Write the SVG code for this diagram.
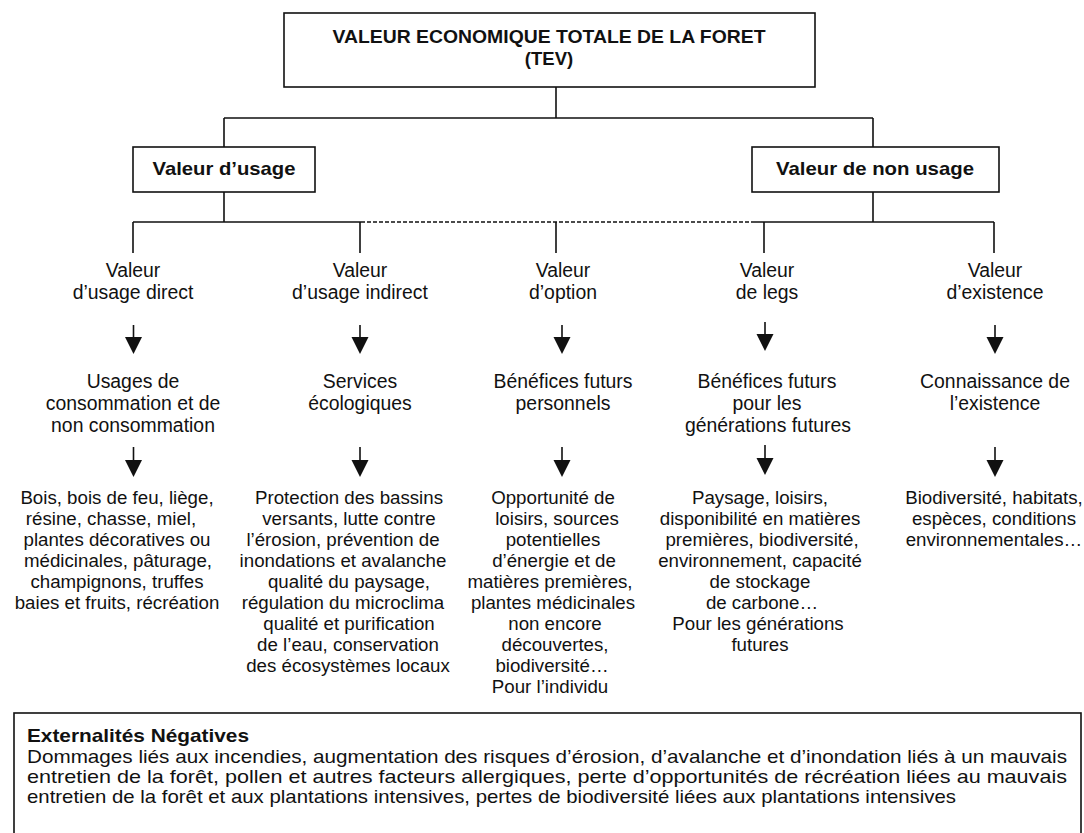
<svg xmlns="http://www.w3.org/2000/svg" width="1084" height="833" viewBox="0 0 1084 833">
<style>
.bg{fill:#fff}
.box{fill:#fff;stroke:#111;stroke-width:1.6}
.ln{fill:none;stroke:#111;stroke-width:1.6}
.dash{fill:none;stroke:#111;stroke-width:1.4;stroke-dasharray:4 2}
.t{font-family:"Liberation Sans",Arial,sans-serif;font-size:19.4px;fill:#111;text-anchor:middle}
.s{font-family:"Liberation Sans",Arial,sans-serif;font-size:18.7px;fill:#111;text-anchor:middle}
.b{font-family:"Liberation Sans",Arial,sans-serif;font-size:18.5px;font-weight:bold;fill:#111;text-anchor:middle}
.bl{font-family:"Liberation Sans",Arial,sans-serif;font-size:17.9px;fill:#111}
.blb{font-weight:bold}
.arrow{fill:none;stroke:#111;stroke-width:1.6}
.head{fill:#111}
</style>
<rect class="bg" x="0" y="0" width="1084" height="833"/>

<g id="connectors">
  <path class="ln" d="M556 87V118M224 118H873M224 118V147M873 118V147"/>
  <path class="ln" d="M224 192V222M873 192V222"/>
  <path class="ln" d="M133 222H361M752 222H994"/>
  <path class="dash" d="M361 222H752"/>
  <path class="ln" d="M133 222V253M360 222V253M556 222V253M764 222V253M994 222V253"/>
  <path class="arrow" d="M133.5 325V339M360 325V339M562 325V339M765 322V336M995 325V339"/>
  <path class="head" d="M125 337H142L133.5 354ZM351.5 337H368.5L360 354ZM553.5 337H570.5L562 354ZM756.5 334H773.5L765 351ZM986.5 337H1003.5L995 354Z"/>
  <path class="arrow" d="M133.5 447V462M360 447V462M562 447V462M765 445V460M995 447V462"/>
  <path class="head" d="M125 460H142L133.5 477ZM351.5 460H368.5L360 477ZM553.5 460H570.5L562 477ZM756.5 458H773.5L765 475ZM986.5 460H1003.5L995 477Z"/>
</g>

<g id="tev">
  <rect class="box" x="284" y="13" width="531" height="74"/>
  <text class="b" x="549" y="43" textLength="433" lengthAdjust="spacingAndGlyphs">VALEUR ECONOMIQUE TOTALE DE LA FORET</text>
  <text class="b" x="549" y="65">(TEV)</text>
</g>

<g id="usage">
  <rect class="box" x="133" y="147" width="182" height="45"/>
  <text class="b" x="224" y="175" textLength="143" lengthAdjust="spacingAndGlyphs">Valeur d’usage</text>
</g>

<g id="non-usage">
  <rect class="box" x="752" y="147" width="247" height="45"/>
  <text class="b" x="875" y="175" textLength="198" lengthAdjust="spacingAndGlyphs">Valeur de non usage</text>
</g>

<g id="usage-direct">
  <text class="t"><tspan x="133" y="277">Valeur</tspan><tspan x="133" y="299">d’usage direct</tspan></text>
</g>
<g id="usage-indirect">
  <text class="t"><tspan x="360" y="277">Valeur</tspan><tspan x="360" y="299">d’usage indirect</tspan></text>
</g>
<g id="option">
  <text class="t"><tspan x="563" y="277">Valeur</tspan><tspan x="563" y="299">d’option</tspan></text>
</g>
<g id="legs">
  <text class="t"><tspan x="767" y="277">Valeur</tspan><tspan x="767" y="299">de legs</tspan></text>
</g>
<g id="existence">
  <text class="t"><tspan x="995" y="277">Valeur</tspan><tspan x="995" y="299">d’existence</tspan></text>
</g>

<g id="usages-conso">
  <text class="t"><tspan x="133" y="388">Usages de</tspan><tspan x="133" y="410">consommation et de</tspan><tspan x="133" y="432">non consommation</tspan></text>
</g>
<g id="services">
  <text class="t"><tspan x="360" y="388">Services</tspan><tspan x="360" y="410">écologiques</tspan></text>
</g>
<g id="benefices-perso">
  <text class="t"><tspan x="563" y="388">Bénéfices futurs</tspan><tspan x="563" y="410">personnels</tspan></text>
</g>
<g id="benefices-gen">
  <text class="t"><tspan x="767" y="388">Bénéfices futurs</tspan><tspan x="767" y="410">pour les</tspan><tspan x="768" y="432">générations futures</tspan></text>
</g>
<g id="connaissance">
  <text class="t"><tspan x="995" y="388">Connaissance de</tspan><tspan x="995" y="410">l’existence</tspan></text>
</g>

<g id="exemples-direct">
  <text class="s"><tspan x="117" y="504">Bois, bois de feu, liège,</tspan><tspan x="111" y="525">résine, chasse, miel,</tspan><tspan x="117" y="546">plantes décoratives ou</tspan><tspan x="118" y="567">médicinales, pâturage,</tspan><tspan x="117" y="588">champignons, truffes</tspan><tspan x="117" y="609">baies et fruits, récréation</tspan></text>
</g>
<g id="exemples-indirect">
  <text class="s"><tspan x="349" y="504">Protection des bassins</tspan><tspan x="349" y="525">versants, lutte contre</tspan><tspan x="343" y="546">l’érosion,  prévention de</tspan><tspan x="343" y="567">inondations et avalanche</tspan><tspan x="349" y="588">qualité du paysage,</tspan><tspan x="343" y="609">régulation du microclima</tspan><tspan x="349" y="630">qualité et purification</tspan><tspan x="348" y="651">de l’eau, conservation</tspan><tspan x="348" y="672">des écosystèmes locaux</tspan></text>
</g>
<g id="exemples-option">
  <text class="s"><tspan x="553" y="504">Opportunité de</tspan><tspan x="557" y="525">loisirs, sources</tspan><tspan x="553" y="546">potentielles</tspan><tspan x="554" y="567">d’énergie et de</tspan><tspan x="550" y="588">matières premières,</tspan><tspan x="553" y="609">plantes médicinales</tspan><tspan x="555" y="630">non encore</tspan><tspan x="555" y="651">découvertes,</tspan><tspan x="552" y="672">biodiversité…</tspan><tspan x="550" y="693">Pour l’individu</tspan></text>
</g>
<g id="exemples-legs">
  <text class="s"><tspan x="760" y="504">Paysage, loisirs,</tspan><tspan x="760" y="525">disponibilité en matières</tspan><tspan x="762" y="546">premières, biodiversité,</tspan><tspan x="760" y="567">environnement, capacité</tspan><tspan x="760" y="588">de stockage</tspan><tspan x="762" y="609">de carbone…</tspan><tspan x="758" y="630">Pour les générations</tspan><tspan x="760" y="651">futures</tspan></text>
</g>
<g id="exemples-existence">
  <text class="s"><tspan x="994" y="504">Biodiversité, habitats,</tspan><tspan x="994" y="525">espèces, conditions</tspan><tspan x="994" y="546">environnementales…</tspan></text>
</g>

<g id="externalites">
  <rect class="box" x="14" y="713" width="1067" height="140"/>
  <text class="bl"><tspan class="blb" x="27" y="742" textLength="222" lengthAdjust="spacingAndGlyphs">Externalités Négatives</tspan><tspan x="27" y="763" textLength="1040" lengthAdjust="spacingAndGlyphs">Dommages liés aux incendies, augmentation des risques d’érosion, d’avalanche et d’inondation liés à un mauvais</tspan><tspan x="27" y="783" textLength="1040" lengthAdjust="spacingAndGlyphs">entretien de la forêt, pollen et autres facteurs allergiques, perte d’opportunités de récréation liées au mauvais</tspan><tspan x="27" y="803" textLength="929" lengthAdjust="spacingAndGlyphs">entretien de la forêt et aux plantations intensives, pertes de biodiversité liées aux plantations intensives</tspan></text>
</g>
</svg>
